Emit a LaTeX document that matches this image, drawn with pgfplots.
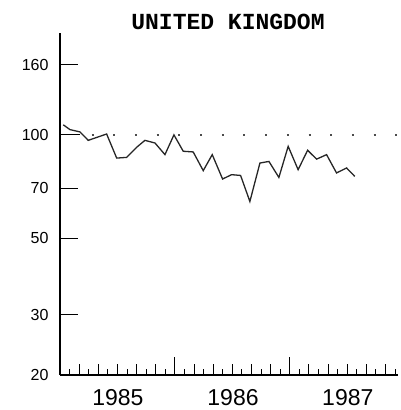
\documentclass[border=0pt]{standalone}
\usepackage{fontspec}
\setmainfont{Liberation Sans}
\newfontfamily\monofont{Liberation Mono}
\usepackage{pgfplots}
\pgfplotsset{compat=1.18}
\begin{document}
\begin{tikzpicture}
\begin{axis}[
  at={(0,0)}, anchor=south west,
  scale only axis, width=338pt, height=342pt,
  xmin=0, xmax=35.3, ymin=20, ymax=198,
  ymode=log,
  axis x line=bottom, axis y line=left,
  axis line style={-, line width=1.4pt, black},
  xtick align=inside, ytick align=inside,
  xtick={12,24}, xticklabels={},
  minor xtick={1,3,...,35},
  extra x ticks={2,4,6,8,10,14,16,18,20,22,26,28,30,32,34},
  extra x tick labels={},
  extra x tick style={major tick length=11pt},
  ytick={20,30,50,70,100,160},
  yticklabels={20,30,50,70,100,160},
  yminorticks=false,
  major tick length=18pt, minor tick length=6pt,
  x tick style={black, line width=1pt},
  y tick style={black, line width=1.2pt},
  yticklabel style={font=\fontsize{16}{16}\selectfont, xshift=-8pt},
  clip=false,
]
% reference level 100
\addplot[black, line width=1pt] coordinates {(0.3,100) (2.1,100)};
\addplot[black!70, line width=2pt, dash pattern=on 2pt off 19.7pt] coordinates {(3.3,100) (35.3,100)};
% data
\addplot[black!85, line width=1.3pt] coordinates {
(0.34,107) (1.04,103.6) (2.09,102) (2.95,96.4) (4.87,100.6) (5.92,85.6)
(6.96,86) (8.0,92) (8.87,96.4) (9.92,94.7) (10.96,87.6) (11.9,100)
(12.87,89.6) (13.91,89.2) (14.96,78.7) (15.9,87.6) (16.98,74.4) (17.92,76.6)
(18.86,76.2) (19.83,64) (20.88,82.8) (21.82,83.7) (22.86,75.2) (23.83,92.6)
(24.87,79.2) (25.86,90.2) (26.8,85) (27.84,87.6) (28.88,77.5) (29.93,80.1)
(30.79,75.7)};
\node[font=\fontsize{23}{23}\selectfont] at (axis cs:6.05,20) [yshift=-23pt] {1985};
\node[font=\fontsize{23}{23}\selectfont] at (axis cs:18.07,20) [yshift=-23pt] {1986};
\node[font=\fontsize{23}{23}\selectfont] at (axis cs:30.06,20) [yshift=-23pt] {1987};
\node[font=\monofont\bfseries\fontsize{23}{23}\selectfont] at (rel axis cs:0.497,1.032) {UNITED KINGDOM};
\end{axis}
\pgfresetboundingbox
\path (-60pt,-35pt) rectangle (340pt,375pt);
\end{tikzpicture}
\end{document}
